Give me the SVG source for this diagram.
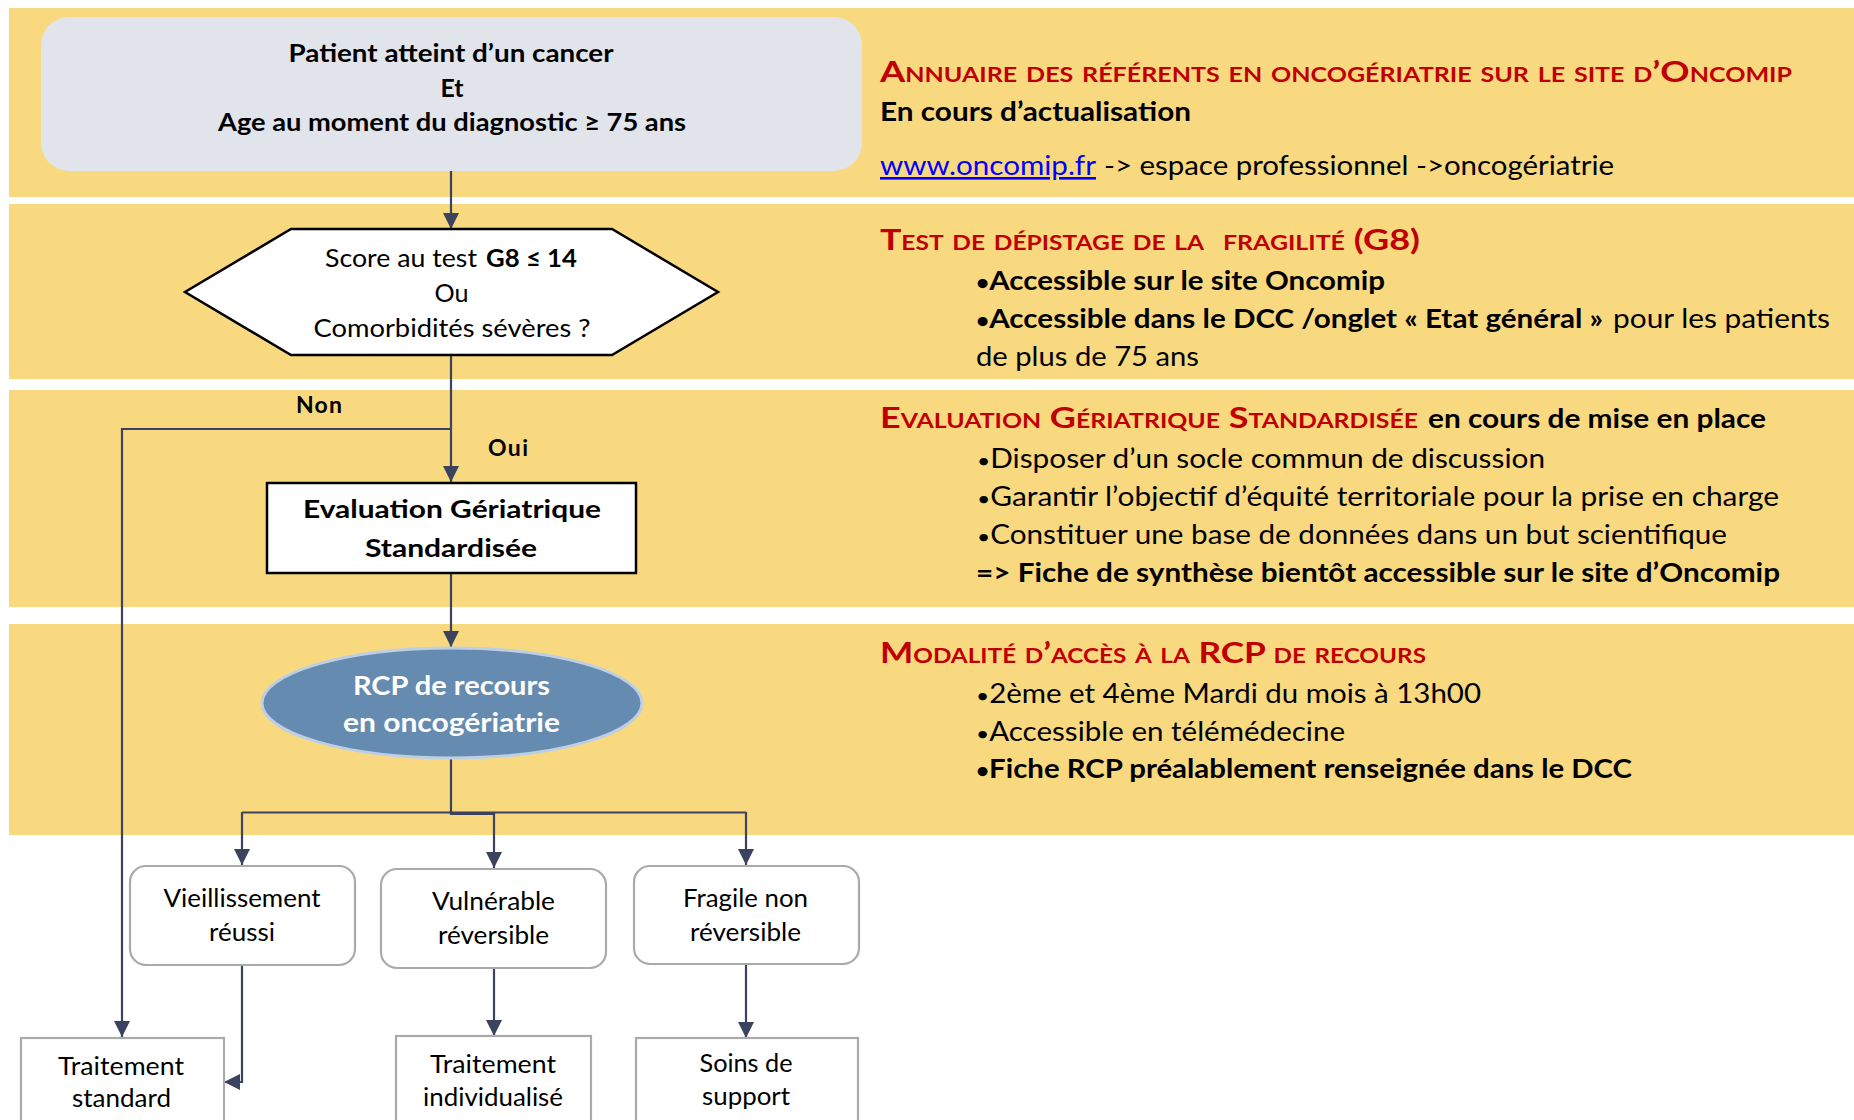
<svg xmlns="http://www.w3.org/2000/svg" width="1854" height="1120" viewBox="0 0 1854 1120">
<defs>
<style>
text{font-family:Lato,"Open Sans","DejaVu Sans",sans-serif;fill:#000}
.b{font-weight:bold}
.c{text-anchor:middle}
.band{fill:#F9D97F}
.h{fill:#C00000;font-weight:bold;font-variant:small-caps;font-size:29px}
.r{font-size:26px}
.n{font-size:25px}
.bu{font-size:20px}
.conn{fill:none;stroke:#3B435E;stroke-width:2.2}
.leaf{fill:#fff;stroke:#AAAAAA;stroke-width:2.2}
</style>
<marker id="ah" markerUnits="userSpaceOnUse" markerWidth="16" markerHeight="16" viewBox="0 0 16 16" refX="16" refY="8" orient="auto">
<path d="M0,0 L16,8 L0,16 z" fill="#3B435E"/>
</marker>
</defs>
<rect width="1854" height="1120" fill="#fff"/>
<g id="bands">
<rect class="band" x="9" y="8" width="1845" height="189"/>
<rect class="band" x="9" y="204" width="1845" height="175"/>
<rect class="band" x="9" y="390" width="1845" height="217"/>
<rect class="band" x="9" y="624" width="1845" height="211"/>
</g>
<g id="connectors">
<path class="conn" d="M451,171 V229" marker-end="url(#ah)"/>
<path class="conn" d="M451,355 V482" marker-end="url(#ah)"/>
<path class="conn" d="M451,429 H122 V1037" marker-end="url(#ah)"/>
<path class="conn" d="M451,573 V647" marker-end="url(#ah)"/>
<path class="conn" d="M451,757 V814 H494"/>
<path class="conn" d="M242,812.5 H746"/>
<path class="conn" d="M242,812 V865" marker-end="url(#ah)"/>
<path class="conn" d="M494,812 V868" marker-end="url(#ah)"/>
<path class="conn" d="M746,812 V865" marker-end="url(#ah)"/>
<path class="conn" d="M242,965 V1082 H224" marker-end="url(#ah)"/>
<path class="conn" d="M494,968 V1036" marker-end="url(#ah)"/>
<path class="conn" d="M746,964 V1038" marker-end="url(#ah)"/>
</g>
<g id="labels">
<text class="b c" x="319" y="413" font-size="23" textLength="46">Non</text>
<text class="b c" x="508" y="456" font-size="23" textLength="40">Oui</text>
</g>
<g id="start">
<rect x="41" y="17" width="821" height="154" rx="28" fill="#E1E4EA"/>
<text class="b c" x="451" y="62" font-size="24" textLength="325" lengthAdjust="spacingAndGlyphs">Patient atteint d’un cancer</text>
<text class="b c" x="452" y="97" font-size="24" textLength="23" lengthAdjust="spacingAndGlyphs">Et</text>
<text class="b c" x="452" y="131" font-size="24" textLength="468" lengthAdjust="spacingAndGlyphs">Age au moment du diagnostic ≥ 75 ans</text>
</g>
<g id="decision">
<polygon points="291,229 612,229 718,292 612,355 291,355 185,292" fill="#fff" stroke="#000" stroke-width="2.5"/>
<text x="325" y="267" font-size="25" textLength="152" lengthAdjust="spacingAndGlyphs">Score au test</text>
<text class="b" x="486" y="267" font-size="25" textLength="91" lengthAdjust="spacingAndGlyphs">G8 ≤ 14</text>
<text class="c" x="451.5" y="302" font-size="25" textLength="34" lengthAdjust="spacingAndGlyphs">Ou</text>
<text class="c" x="452" y="337" font-size="25" textLength="277" lengthAdjust="spacingAndGlyphs">Comorbidités sévères ?</text>
</g>
<g id="egs">
<rect x="267" y="483" width="369" height="90" fill="#fff" stroke="#000" stroke-width="2.5"/>
<text class="b c" x="452" y="518" font-size="25.5" textLength="298" lengthAdjust="spacingAndGlyphs">Evaluation Gériatrique</text>
<text class="b c" x="451" y="557" font-size="25.5" textLength="172" lengthAdjust="spacingAndGlyphs">Standardisée</text>
</g>
<g id="rcp">
<ellipse cx="452" cy="703" rx="190" ry="55" fill="#658BB0" stroke="#BCCFE5" stroke-width="3"/>
<text class="b c" x="451.5" y="695" font-size="26.5" textLength="197" lengthAdjust="spacingAndGlyphs" style="fill:#fff">RCP de recours</text>
<text class="b c" x="451.5" y="732" font-size="26.5" textLength="217" lengthAdjust="spacingAndGlyphs" style="fill:#fff">en oncogériatrie</text>
</g>
<g id="vieillissement">
<rect class="leaf" x="130" y="866" width="225" height="99" rx="16"/>
<text class="c n" x="242" y="907" textLength="157" lengthAdjust="spacingAndGlyphs">Vieillissement</text>
<text class="c n" x="242" y="941" textLength="66" lengthAdjust="spacingAndGlyphs">réussi</text>
</g>
<g id="vulnerable">
<rect class="leaf" x="381" y="869" width="225" height="99" rx="16"/>
<text class="c n" x="493.5" y="910" textLength="123" lengthAdjust="spacingAndGlyphs">Vulnérable</text>
<text class="c n" x="493.5" y="944" textLength="111" lengthAdjust="spacingAndGlyphs">réversible</text>
</g>
<g id="fragile">
<rect class="leaf" x="634" y="866" width="225" height="98" rx="16"/>
<text class="c n" x="745.5" y="907" textLength="125" lengthAdjust="spacingAndGlyphs">Fragile non</text>
<text class="c n" x="745.5" y="941" textLength="111" lengthAdjust="spacingAndGlyphs">réversible</text>
</g>
<g id="traitement-standard">
<rect class="leaf" x="21" y="1038" width="203" height="90"/>
<text class="c n" x="121" y="1075" textLength="126" lengthAdjust="spacingAndGlyphs">Traitement</text>
<text class="c n" x="121.5" y="1107" textLength="99" lengthAdjust="spacingAndGlyphs">standard</text>
</g>
<g id="traitement-individualise">
<rect class="leaf" x="396" y="1036" width="195" height="92"/>
<text class="c n" x="493" y="1073" textLength="126" lengthAdjust="spacingAndGlyphs">Traitement</text>
<text class="c n" x="493" y="1106" textLength="140" lengthAdjust="spacingAndGlyphs">individualisé</text>
</g>
<g id="soins-support">
<rect class="leaf" x="636" y="1038" width="222" height="90"/>
<text class="c n" x="746" y="1072" textLength="93" lengthAdjust="spacingAndGlyphs">Soins de</text>
<text class="c n" x="746" y="1105" textLength="88" lengthAdjust="spacingAndGlyphs">support</text>
</g>
<g id="info-annuaire">
<text class="h" x="880" y="82" textLength="912" lengthAdjust="spacingAndGlyphs">Annuaire des référents en oncogériatrie sur le site d’Oncomip</text>
<text class="b r" x="880" y="121" textLength="311" lengthAdjust="spacingAndGlyphs">En cours d’actualisation</text>
<text class="r" x="880" y="175" textLength="216" lengthAdjust="spacingAndGlyphs" style="fill:#0000FF" text-decoration="underline">www.oncomip.fr</text>
<text class="r" x="1104" y="175" textLength="510" lengthAdjust="spacingAndGlyphs">-&gt; espace professionnel -&gt;oncogériatrie</text>
</g>
<g id="info-g8">
<text class="h" x="880" y="250" textLength="324" lengthAdjust="spacingAndGlyphs">Test de dépistage de la</text>
<text class="h" x="1223" y="250" textLength="197" lengthAdjust="spacingAndGlyphs">fragilité (G8)</text>
<text class="b r" x="976" y="290" textLength="409" lengthAdjust="spacingAndGlyphs"><tspan class="bu">•</tspan>Accessible sur le site Oncomip</text>
<text class="b r" x="976" y="328" textLength="627" lengthAdjust="spacingAndGlyphs"><tspan class="bu">•</tspan>Accessible dans le DCC /onglet « Etat général »</text>
<text class="r" x="1613" y="328" textLength="217" lengthAdjust="spacingAndGlyphs">pour les patients</text>
<text class="r" x="976" y="366" textLength="223" lengthAdjust="spacingAndGlyphs">de plus de 75 ans</text>
</g>
<g id="info-egs">
<text class="h" x="880" y="428" textLength="538" lengthAdjust="spacingAndGlyphs">Evaluation Gériatrique Standardisée</text>
<text class="b r" x="1428" y="428" textLength="338" lengthAdjust="spacingAndGlyphs">en cours de mise en place</text>
<text class="r" x="977" y="468" textLength="568" lengthAdjust="spacingAndGlyphs"><tspan class="bu">•</tspan>Disposer d’un socle commun de discussion</text>
<text class="r" x="977" y="506" textLength="802" lengthAdjust="spacingAndGlyphs"><tspan class="bu">•</tspan>Garantir l’objectif d’équité territoriale pour la prise en charge</text>
<text class="r" x="977" y="544" textLength="750" lengthAdjust="spacingAndGlyphs"><tspan class="bu">•</tspan>Constituer une base de données dans un but scientifique</text>
<text class="b r" x="976" y="582" textLength="804" lengthAdjust="spacingAndGlyphs">=&gt; Fiche de synthèse bientôt accessible sur le site d’Oncomip</text>
</g>
<g id="info-rcp">
<text class="h" x="880" y="663" textLength="546" lengthAdjust="spacingAndGlyphs">Modalité d’accès à la RCP de recours</text>
<text class="r" x="976" y="703" textLength="505" lengthAdjust="spacingAndGlyphs"><tspan class="bu">•</tspan>2ème et 4ème Mardi du mois à 13h00</text>
<text class="r" x="976" y="741" textLength="369" lengthAdjust="spacingAndGlyphs"><tspan class="bu">•</tspan>Accessible en télémédecine</text>
<text class="b r" x="976" y="778" textLength="656" lengthAdjust="spacingAndGlyphs"><tspan class="bu">•</tspan>Fiche RCP préalablement renseignée dans le DCC</text>
</g>
</svg>
